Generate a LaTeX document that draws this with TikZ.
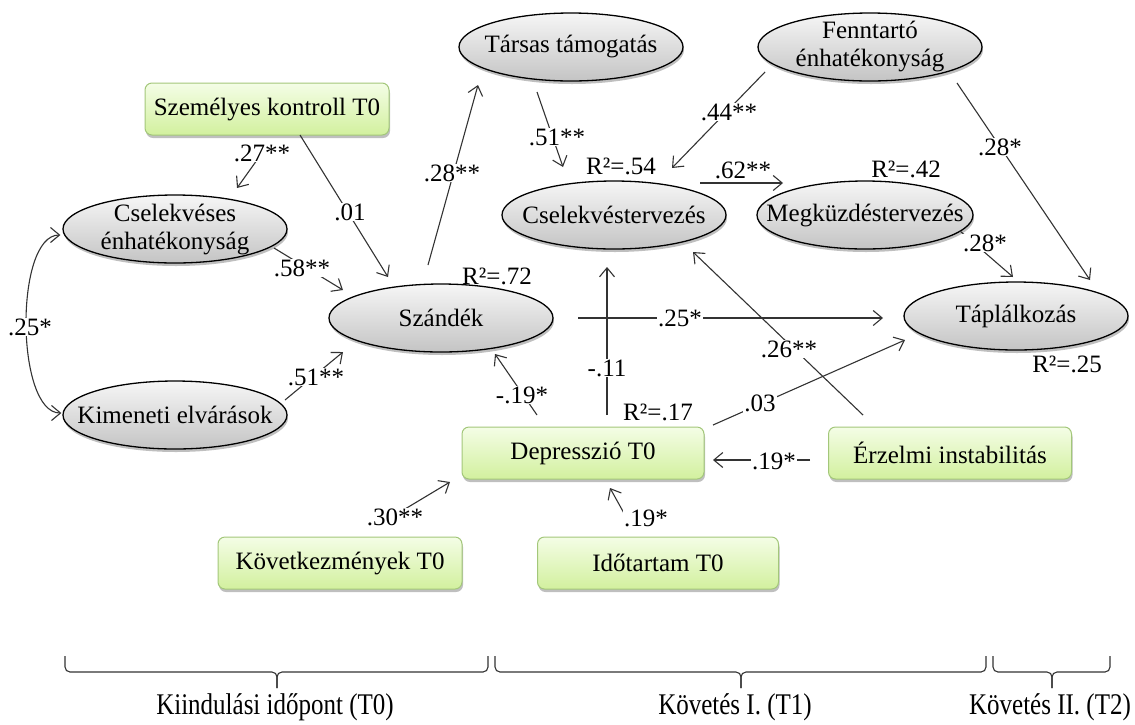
\documentclass[tikz,border=0pt]{standalone}
\usepackage{fontspec}
\usepackage{graphicx}
\setmainfont{Liberation Serif}
\usetikzlibrary{shapes.geometric,shadows,calc,arrows.meta}
\definecolor{elltop}{HTML}{F6F6F6}
\definecolor{ellbot}{HTML}{C4C4C4}
\definecolor{boxtop}{HTML}{F4FDE6}
\definecolor{boxbot}{HTML}{D2F09E}
\definecolor{boxedge}{HTML}{A3C77A}
\begin{document}
\begin{tikzpicture}[x=1pt,y=-1pt,
  every node/.style={font=\fontsize{25}{28}\selectfont, text=black},
  ell/.style={ellipse, draw=black, line width=1.3pt, top color=elltop, bottom color=ellbot,
    minimum width=#1, minimum height=68pt, inner sep=0pt,
    drop shadow={shadow xshift=1pt, shadow yshift=-3pt, fill=black, opacity=0.25}},
  ell/.default=224pt,
  etext/.style={align=center, font=\fontsize{25}{28}\selectfont},
  box/.style={rectangle, rounded corners=7pt, draw=boxedge, line width=1pt,
    top color=boxtop, bottom color=boxbot, minimum width=#1, minimum height=52pt, inner sep=2pt,
    drop shadow={shadow xshift=1pt, shadow yshift=-3pt, fill=black, opacity=0.25}},
  box/.default=244pt,
  arr/.style={draw=black!80, line width=1.1pt, -{Straight Barb[length=9pt,width=15pt]}},
  darr/.style={draw=black!80, line width=1.1pt, {Straight Barb[length=9pt,width=15pt]}-{Straight Barb[length=9pt,width=15pt]}},
  lbl/.style={fill=white, inner sep=1pt},
  rsq/.style={inner sep=1pt},
  bracepath/.style={draw=black!80, line width=1.1pt, rounded corners=5pt},
  period/.style={inner sep=0pt, anchor=base}
]
\useasboundingbox (0,0) rectangle (1135,724);

% ellipses
\node[ell, label={[etext]center:Társas támogatás}] (tarsas) at (571,47) {};
\node[ell, label={[etext]center:Fenntartó\\énhatékonyság}] (fennt) at (870,47) {};
\node[ell, label={[etext]center:Cselekvéses\\énhatékonyság}] (csel) at (175,229) {};
\node[ell, label={[etext]center:Kimeneti elvárások}] (kimen) at (175,415) {};
\node[ell, label={[etext]center:Szándék}] (szandek) at (441,318) {};
\node[ell, label={[etext]center:Cselekvéstervezés}] (cstv) at (614,215) {};
\node[ell=216pt, label={[etext]center:Megküzdéstervezés}] (megk) at (865,215) {};
\node[ell, label={[etext]center:Táplálkozás}] (tapl) at (1016,316) {};

% boxes
\node[box] (kontroll) at (267,109) {Személyes kontroll T0};
\node[box=242pt] (dep) at (583,453) {Depresszió T0};
\node[box=243pt] (erz) at (950,453) {Érzelmi instabilitás};
\node[box] (kov) at (340,563) {Következmények T0};
\node[box=241pt] (ido) at (658,563) {Időtartam T0};

% connectors
\draw[arr] ($(kontroll)+(-10,51)$) -- ($(csel)+(62,-41)$);
\draw[arr] ($(kontroll)+(33,26)$) -- ($(szandek)+(-53,-41)$);
\draw[arr] ($(csel)+(99,19)$) -- ($(szandek)+(-98,-28)$);
\draw[arr] ($(kimen)+(110,-15)$) -- ($(szandek)+(-98,34)$);
\draw[arr] ($(szandek)+(-13,-53)$) -- ($(tarsas)+(-93,38)$);
\draw[arr] ($(tarsas)+(-34,45)$) -- ($(cstv)+(-51,-48)$);
\draw[arr] ($(fennt)+(-105,25)$) -- ($(cstv)+(58,-47)$);
\draw[arr] ($(cstv)+(86,-32)$) -- ($(megk)+(-82,-32)$);
\draw[arr] ($(fennt)+(87,36)$) -- ($(tapl)+(74,-36)$);
\draw[arr] ($(megk)+(95,16)$) -- ($(tapl)+(-3,-39)$);
\draw[arr] ($(szandek)+(137,0)$) -- ($(tapl)+(-133,2)$);
\draw[arr] ($(dep)+(24,-38)$) -- ($(cstv)+(-7,52)$);
\draw[arr] ($(dep)+(-46,-38)$) -- ($(szandek)+(54,36)$);
\draw[arr] ($(dep)+(130,-28)$) -- ($(tapl)+(-111,24)$);
\draw[arr] ($(erz)+(-87,-38)$) -- ($(cstv)+(79,37)$);
\draw[arr] ($(erz)+(-140,7)$) -- ($(dep)+(130,7)$);
\draw[arr] ($(kov)+(60,-51)$) -- ($(dep)+(-133,29)$);
\draw[arr] ($(ido)+(-33,-48)$) -- ($(dep)+(27,35)$);
\draw[darr] ($(csel.west)+(-2,6)$) .. controls +(-46,0) and +(-46,0) .. ($(kimen.west)+(-1,-2)$);

% path labels
\node[lbl] at (262,153) {.27**};
\node[lbl] at (350,212) {.01};
\node[lbl] at (302,268) {.58**};
\node[lbl] at (316,377) {.51**};
\node[lbl] at (452,173) {.28**};
\node[lbl] at (557,137) {.51**};
\node[lbl] at (729,112) {.44**};
\node[rsq] at (743,170) {.62**};
\node[lbl] at (1000,147) {.28*};
\node[lbl] at (985,243) {.28*};
\node[lbl] at (680,318) {.25*};
\node[lbl] at (607,368) {-.11};
\node[lbl] at (522,395) {-.19*};
\node[lbl] at (760,403) {.03};
\node[lbl] at (789,349) {.26**};
\node[lbl] at (774,461) {.19*};
\node[lbl] at (395,517) {.30**};
\node[lbl] at (646,518) {.19*};
\node[lbl] at (30,327) {.25*};

% R squared
\node[rsq] at (497,276) {R²=.72};
\node[rsq] at (621,166) {R²=.54};
\node[rsq] at (906,169) {R²=.42};
\node[rsq] at (1067,364) {R²=.25};
\node[rsq] at (658,412) {R²=.17};

% braces
\draw[bracepath] (65,656) -- (65,672) -- (277,672) -- (277,688);
\draw[bracepath] (488,656) -- (488,672) -- (277,672) -- (277,688);
\draw[bracepath] (495,656) -- (495,672) -- (741,672) -- (741,688);
\draw[bracepath] (986,656) -- (986,672) -- (741,672) -- (741,688);
\draw[bracepath] (993,656) -- (993,672) -- (1052,672) -- (1052,688);
\draw[bracepath] (1110,656) -- (1110,672) -- (1052,672) -- (1052,688);

\node[period] at (275,714) {\scalebox{1}[1.2]{Kiindulási időpont (T0)}};
\node[period] at (735,714) {\scalebox{1}[1.2]{Követés I. (T1)}};
\node[period] at (1050,714) {\scalebox{1}[1.2]{Követés II. (T2)}};
\end{tikzpicture}
\end{document}
